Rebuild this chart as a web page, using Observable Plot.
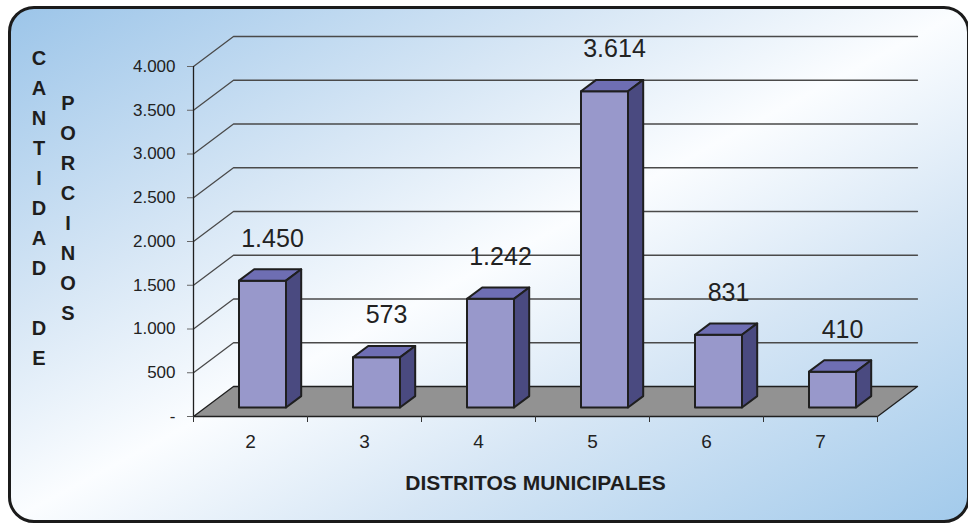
<!DOCTYPE html>
<html>
<head>
<meta charset="utf-8">
<script src="https://cdn.jsdelivr.net/npm/d3@7"></script>
<script src="https://cdn.jsdelivr.net/npm/@observablehq/plot@0.6"></script>
<style>
  html, body { margin: 0; padding: 0; background: #ffffff; }
  #wrap { position: relative; width: 968px; height: 525px; overflow: hidden; font-family: "Liberation Sans", Arial, sans-serif; }
  #frame { position: absolute; left: 8px; top: 6px; width: 962px; height: 517px; box-sizing: border-box;
    border: 3px solid #1b1b1b; border-radius: 26px;
    background: linear-gradient(to bottom right, #9cc5e9 0%, #d6e6f5 30%, #fbfdff 50%, #d6e6f5 70%, #a2caeb 100%); }
  .ytitle { position: absolute; width: 30px; text-align: center; font-weight: bold; font-size: 20px; line-height: 30px; color: #1e1e1e; white-space: pre; }
  #chart { position: absolute; left: 0; top: 0; }
</style>
</head>
<body>
<div id="wrap">
  <div id="frame"></div>
  <div id="t1" class="ytitle" style="left:24px; top:43px;"></div>
  <div id="t2" class="ytitle" style="left:53px; top:88px;"></div>
  <div id="chart"></div>
</div>
<script>
// ---- data ----
const categories = ["2", "3", "4", "5", "6", "7"];
const values = [1450, 573, 1242, 3614, 831, 410];
const valueLabels = ["1.450", "573", "1.242", "3.614", "831", "410"];
const yTicks = [0, 500, 1000, 1500, 2000, 2500, 3000, 3500, 4000];
const yTickLabels = ["-", "500", "1.000", "1.500", "2.000", "2.500", "3.000", "3.500", "4.000"];
const yTitleCol1 = "CANTIDAD DE";
const yTitleCol2 = "PORCINOS";
const xTitle = "DISTRITOS MUNICIPALES";

// ---- layout ----
const W = 968, H = 525;
const mL = 193, mR = 91, mT = 66, mB = 109;
const nCat = categories.length;
const yMax = 4000;
const xPerPx = nCat / (W - mL - mR);
const yPerPx = yMax / (H - mT - mB);
const depthX = 40 * xPerPx, depthY = 30 * yPerPx; // full floor depth in data units
const barHalf = 23.5 * xPerPx;
const f0 = 0.30, f1 = 0.68; // bar front/back depth fractions

function P(x, y, f) { return {x: x + f * depthX, y: y + f * depthY}; }
function poly(pts, id) { return pts.concat([pts[0]]).map(p => ({...p, id})); }

// floor
const floor = poly([P(0, 0, 0), P(nCat, 0, 0), P(nCat, 0, 1), P(0, 0, 1)], "floor");
// back-wall grid lines
const grid = yTicks.filter(t => t > 0).flatMap(t =>
  [P(0, t, 0), P(0, t, 1), P(nCat, t, 1)].map(p => ({...p, id: t})));

const fronts = [], tops = [], sides = [];
values.forEach((v, i) => {
  const x0 = i + 0.5 - barHalf, x1 = i + 0.5 + barHalf;
  fronts.push(...poly([P(x0, 0, f0), P(x1, 0, f0), P(x1, v, f0), P(x0, v, f0)], i));
  tops.push(...poly([P(x0, v, f0), P(x1, v, f0), P(x1, v, f1), P(x0, v, f1)], i));
  sides.push(...poly([P(x1, 0, f0), P(x1, 0, f1), P(x1, v, f1), P(x1, v, f0)], i));
});
const labels = values.map((v, i) => ({...P(i + 0.5, v, f0), text: valueLabels[i]}));

document.getElementById("t1").textContent = yTitleCol1.split("").join("\n");
document.getElementById("t2").textContent = yTitleCol2.split("").join("\n");

const outline = "#1f1f1f";
const chart = Plot.plot({
  width: W, height: H,
  marginLeft: mL, marginRight: mR, marginTop: mT, marginBottom: mB,
  style: {background: "transparent", fontFamily: "'Liberation Sans', Arial, sans-serif", color: "#222"},
  x: {type: "linear", domain: [0, nCat], axis: null},
  y: {type: "linear", domain: [0, yMax], axis: null},
  marks: [
    Plot.line(grid, {x: "x", y: "y", z: "id", stroke: "#4a4a4a", strokeWidth: 1.3}),
    Plot.line(floor, {x: "x", y: "y", z: "id", fill: "#929292", stroke: outline, strokeWidth: 1.3}),
    Plot.ruleX([0], {y1: 0, y2: yMax, stroke: outline, strokeWidth: 1.3}),
    Plot.axisY(yTicks, {anchor: "left", tickSize: 6, tickFormat: () => "", stroke: "#666", label: null}),
    Plot.text(yTicks, {x: 0, y: (d) => d, text: (d, i) => yTickLabels[i], textAnchor: "end", dx: -18,
      fontSize: 17, fill: "#222"}),
    Plot.axisX(d3.range(nCat + 1), {anchor: "bottom", tickSize: 6, tickFormat: () => "", stroke: "#333", label: null}),
    Plot.text(categories, {x: (d, i) => i + 0.5, y: 0, text: (d) => d, dy: 25, fontSize: 19, fill: "#222"}),
    Plot.text([xTitle], {frameAnchor: "bottom", dy: 67, lineAnchor: "middle", fontSize: 21, fontWeight: "bold", fill: "#1e1e1e"}),
    Plot.line(fronts, {x: "x", y: "y", z: "id", fill: "#9898cb", stroke: outline, strokeWidth: 2, strokeLinejoin: "round"}),
    Plot.line(tops, {x: "x", y: "y", z: "id", fill: "#6e6eb3", stroke: outline, strokeWidth: 2, strokeLinejoin: "round"}),
    Plot.line(sides, {x: "x", y: "y", z: "id", fill: "#4a4a80", stroke: outline, strokeWidth: 2, strokeLinejoin: "round"}),
    Plot.text(labels, {x: "x", y: "y", text: "text", dx: 10, dy: -42, fontSize: 25, fill: "#222"})
  ]
});
document.getElementById("chart").appendChild(chart);
</script>
</body>
</html>
